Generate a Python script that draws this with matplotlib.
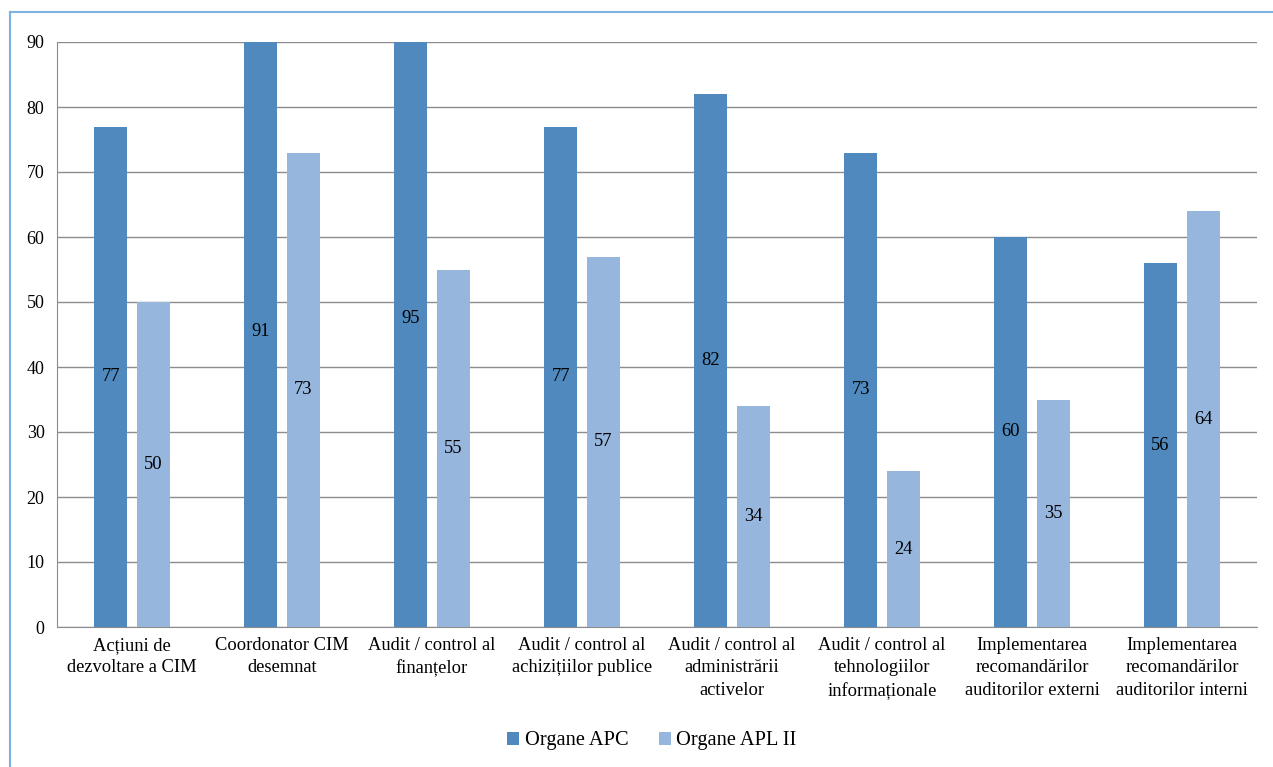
import matplotlib.pyplot as plt
import numpy as np

categories = [
    "Acțiuni de\ndezvoltare a CIM",
    "Coordonator CIM\ndesemnat",
    "Audit / control al\nfinanțelor",
    "Audit / control al\nachizițiilor publice",
    "Audit / control al\nadministrării\nactivelor",
    "Audit / control al\ntehnologiilor\ninformaționale",
    "Implementarea\nrecomandărilor\nauditorilor externi",
    "Implementarea\nrecomandărilor\nauditorilor interni",
]
apc = [77, 91, 95, 77, 82, 73, 60, 56]
apl = [50, 73, 55, 57, 34, 24, 35, 64]
series_names = ["Organe APC", "Organe APL II"]

plt.rcParams["font.family"] = ["Liberation Serif", "DejaVu Serif"]

fig = plt.figure(figsize=(12.73, 7.67), dpi=100)
ax = fig.add_axes([57 / 1273, 1 - 627 / 767, 1200 / 1273, 585 / 767])

# light blue frame around the whole chart (open on the right and bottom)
fx, fy = 10 / 1273, 1 - 12 / 767
fig.add_artist(plt.Line2D([fx, fx], [0, fy], transform=fig.transFigure,
                          color="#7EB1E3", linewidth=1.5))
fig.add_artist(plt.Line2D([fx, 1], [fy, fy], transform=fig.transFigure,
                          color="#7EB1E3", linewidth=1.5))

x = np.arange(len(categories))
w = 0.22
off = 0.143
b1 = ax.bar(x - off, apc, w, color="#4F89BD", label=series_names[0], zorder=3)
b2 = ax.bar(x + off, apl, w, color="#96B6DD", label=series_names[1], zorder=3)

ax.set_ylim(0, 90)
ax.set_xlim(-0.5, len(categories) - 0.5)
ax.set_yticks(range(0, 91, 10))
ax.grid(axis="y", color="#8C8C8C", linewidth=1, zorder=0)
for s in ["top", "right"]:
    ax.spines[s].set_visible(False)
for s in ["left", "bottom"]:
    ax.spines[s].set_color("#8C8C8C")
ax.tick_params(axis="both", length=0, labelsize=13)
ax.tick_params(axis="y", pad=9)
ax.tick_params(axis="x", pad=7)
ax.set_xticks(x)
ax.set_xticklabels(categories, fontsize=13.3, linespacing=1.42)

for bars, vals in ((b1, apc), (b2, apl)):
    for bar, v in zip(bars, vals):
        ax.text(bar.get_x() + bar.get_width() / 2, v / 2, str(v),
                ha="center", va="center", fontsize=13.3, zorder=4)

fig.legend(loc="center", bbox_to_anchor=(0.512, 1 - 741 / 767), ncol=2,
           frameon=False, fontsize=14.7, handlelength=0.6, handleheight=0.6,
           columnspacing=1.5, handletextpad=0.25)

fig.savefig("out.png", dpi=100)
